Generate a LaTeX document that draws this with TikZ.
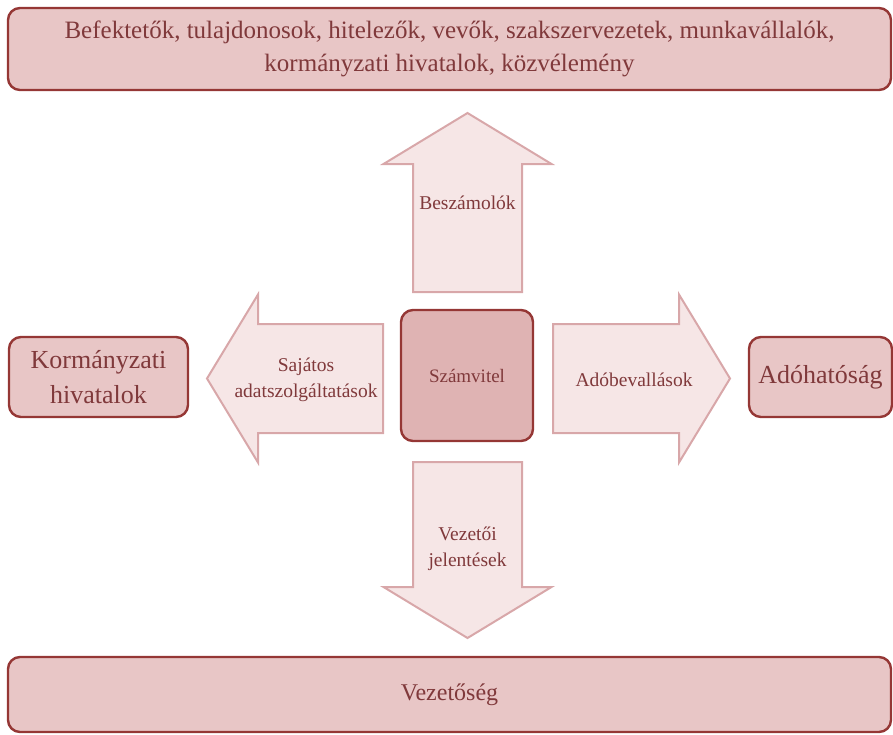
\documentclass[tikz,border=0pt]{standalone}
\usepackage{fontspec}
\setmainfont{Liberation Serif}
\definecolor{boxred}{HTML}{953735}
\definecolor{boxfill}{HTML}{E8C6C6}
\definecolor{corefill}{HTML}{DFB3B3}
\definecolor{arrowfill}{HTML}{F6E6E6}
\definecolor{arrowline}{HTML}{D8A7A9}
\definecolor{labeltext}{HTML}{80393B}

\begin{document}
\begin{tikzpicture}[
    x=1pt, y=-1pt,
    party/.style={
        draw=boxred, line width=2.4pt, fill=boxfill,
        rounded corners=12pt, align=center, text=labeltext, inner sep=0pt
    },
    flow/.style={draw=arrowline, line width=2pt, fill=arrowfill, line join=miter},
    flowlabel/.style={align=center, text=labeltext, font=\fontsize{19.5}{26}\selectfont}
]
\useasboundingbox (0,0) rectangle (893,734);

% the parties around accounting
\node[party, minimum width=883pt, minimum height=82pt, font=\fontsize{25}{33}\selectfont]
    (owners) at (449.5,49) {Befektetők, tulajdonosok, hitelezők, vevők, szakszervezetek, munkavállalók,\\kormányzati hivatalok, közvélemény};
\node[party, minimum width=179pt, minimum height=80pt, font=\fontsize{26}{35}\selectfont]
    (gov) at (98.5,377) {Kormányzati\\hivatalok};
\node[party, minimum width=143pt, minimum height=80pt, font=\fontsize{26}{35}\selectfont]
    (tax) at (820.5,377) {Adóhatóság};
\node[party, minimum width=883pt, minimum height=75pt, font=\fontsize{24}{33}\selectfont]
    (mgmt) at (449.5,694.5) {Vezetőség};
\node[party, fill=corefill, minimum width=132pt, minimum height=131pt, font=\fontsize{19}{23}\selectfont]
    (acc) at (467,375.5) {Számvitel};

% block arrows
\draw[flow] (467.5,113) -- (551.5,164) -- (522,164) -- (522,292) -- (413,292) -- (413,164) -- (383.5,164) -- cycle;
\draw[flow] (467.5,638) -- (551.5,587) -- (522,587) -- (522,462) -- (413,462) -- (413,587) -- (383.5,587) -- cycle;
\draw[flow] (207,378.5) -- (258,294.5) -- (258,324) -- (383,324) -- (383,433) -- (258,433) -- (258,462.5) -- cycle;
\draw[flow] (730,378.5) -- (679,294.5) -- (679,324) -- (553,324) -- (553,433) -- (679,433) -- (679,462.5) -- cycle;

\node[flowlabel] (reports) at (467.5,203) {Beszámolók};
\node[flowlabel] (special) at (306,380) {Sajátos\\adatszolgáltatások};
\node[flowlabel] (returns) at (634,380) {Adóbevallások};
\node[flowlabel] (mreports) at (467.5,549) {Vezetői\\jelentések};

\end{tikzpicture}
\end{document}
